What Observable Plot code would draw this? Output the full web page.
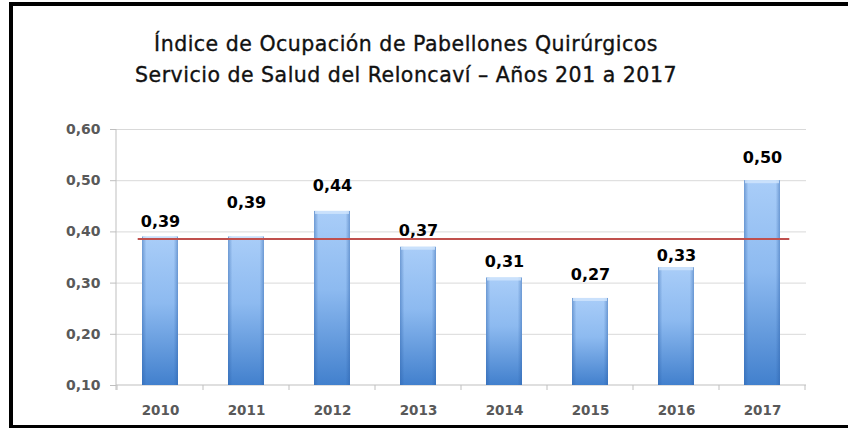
<!DOCTYPE html>
<html>
<head>
<meta charset="utf-8">
<script src="https://cdn.jsdelivr.net/npm/d3@7"></script>
<script src="https://cdn.jsdelivr.net/npm/@observablehq/plot@0.6"></script>
<style>
  html, body { margin: 0; padding: 0; background: #fff; width: 848px; height: 428px; overflow: hidden; }
  #wrap { position: relative; width: 848px; height: 428px; overflow: hidden; }
  #frame { position: absolute; left: 9px; top: 2px; width: 860px; height: 419px; border: 4px solid #000; box-sizing: content-box; }
  #title { position: absolute; left: 0; top: 29px; width: 812px; text-align: center; font-family: "DejaVu Sans", sans-serif; font-size: 20.5px; letter-spacing: 0.5px; line-height: 31px; color: #111; -webkit-text-stroke: 0.35px #111; }
  #chart { position: absolute; left: 0; top: 110px; }
</style>
</head>
<body>
<div id="wrap">
  <div id="frame"></div>
  <div id="title"></div>
  <div id="chart"></div>
</div>
<script>
const titleLines = [
  "Índice de Ocupación de Pabellones Quirúrgicos",
  "Servicio de Salud del Reloncaví – Años 201 a 2017"
];
const years = ["2010", "2011", "2012", "2013", "2014", "2015", "2016", "2017"];
const occupancy = [0.39, 0.39, 0.44, 0.37, 0.31, 0.27, 0.33, 0.50];
const yTicks = [0.1, 0.2, 0.3, 0.4, 0.5, 0.6];
const averageIndex = 0.386;
// vertical nudges of the value labels above each bar (px), as placed in the original
const labelLift = [15, 34, 26, 16, 16, 24, 12, 23];

const data = years.map((year, i) => ({year, value: occupancy[i]}));
const fmt = v => v.toFixed(2).replace(".", ",");

document.getElementById("title").innerHTML = titleLines.join("<br>");

const defs = () => {
  const d = d3.create("svg:defs");
  const g = d.append("linearGradient").attr("id", "barGrad").attr("x1", 0).attr("y1", 0).attr("x2", 0).attr("y2", 1);
  g.append("stop").attr("offset", "0%").attr("stop-color", "#a9cdf8");
  g.append("stop").attr("offset", "45%").attr("stop-color", "#8dbaf0");
  g.append("stop").attr("offset", "100%").attr("stop-color", "#4280cd");
  const e = d.append("linearGradient").attr("id", "edgeGrad").attr("x1", 0).attr("y1", 0).attr("x2", 1).attr("y2", 0);
  e.append("stop").attr("offset", "0%").attr("stop-color", "#2a5fa8").attr("stop-opacity", 0.45);
  e.append("stop").attr("offset", "12%").attr("stop-color", "#2a5fa8").attr("stop-opacity", 0.0);
  e.append("stop").attr("offset", "88%").attr("stop-color", "#2a5fa8").attr("stop-opacity", 0.0);
  e.append("stop").attr("offset", "100%").attr("stop-color", "#2a5fa8").attr("stop-opacity", 0.45);
  return d.node();
};

const axisFrame = (index, scales, values, dimensions) => {
  const {x, y} = scales;
  const g = d3.create("svg:g").attr("stroke", "#bfbfbf").attr("fill", "none");
  const y0 = y(yTicks[0]);
  const yTop = y(yTicks[yTicks.length - 1]);
  const bounds = years.map(c => x(c)).concat([x(years[years.length - 1]) + x.bandwidth()]);
  g.append("line").attr("x1", dimensions.marginLeft).attr("x2", dimensions.width - dimensions.marginRight)
    .attr("y1", y0).attr("y2", y0);
  g.append("line").attr("x1", dimensions.marginLeft).attr("x2", dimensions.marginLeft)
    .attr("y1", yTop).attr("y2", y0 + 5);
  for (const b of bounds) {
    g.append("line").attr("x1", b).attr("x2", b).attr("y1", y0).attr("y2", y0 + 5);
  }
  return g.node();
};

const marks = [
  defs,
  Plot.gridY(yTicks.slice(1), {stroke: "#d9d9d9", strokeOpacity: 1}),
  axisFrame,
  Plot.axisY(yTicks, {
    tickSize: 6, tickPadding: 10, stroke: "#bfbfbf", fill: "#595959",
    fontSize: 14, fontWeight: "bold", tickFormat: fmt, label: null
  }),
  Plot.axisX({
    tickSize: 0, tickPadding: 20, fill: "#595959",
    fontSize: 13.5, fontWeight: "bold", label: null
  }),
  Plot.barY(data, {x: "year", y1: yTicks[0], y2: "value", fill: "url(#barGrad)", insetLeft: 25, insetRight: 25}),
  Plot.barY(data, {x: "year", y1: yTicks[0], y2: "value", fill: "url(#edgeGrad)", insetLeft: 25, insetRight: 25}),
  Plot.barY(data, {x: "year", y1: "value", y2: "value", fill: "#d2e6fd", fillOpacity: 0.8, insetLeft: 26, insetRight: 26, insetBottom: -3}),
  Plot.ruleY([averageIndex], {stroke: "#c0504d", strokeWidth: 2, insetLeft: 21.7, insetRight: 16.7}),
  ...data.map((d, i) => Plot.text([d], {
    x: "year", y: "value", text: v => fmt(v.value), dy: -labelLift[i],
    fontSize: 16, fontWeight: "bold", fill: "#000"
  }))
];

const chart = Plot.plot({
  width: 848,
  height: 318,
  marginTop: 19,
  marginBottom: 43,
  marginLeft: 116,
  marginRight: 42,
  style: {fontFamily: "DejaVu Sans", background: "transparent", overflow: "visible"},
  x: {type: "band", domain: years, padding: 0},
  y: {domain: [0.1, 0.6]},
  marks
});
document.getElementById("chart").appendChild(chart);
</script>
</body>
</html>
